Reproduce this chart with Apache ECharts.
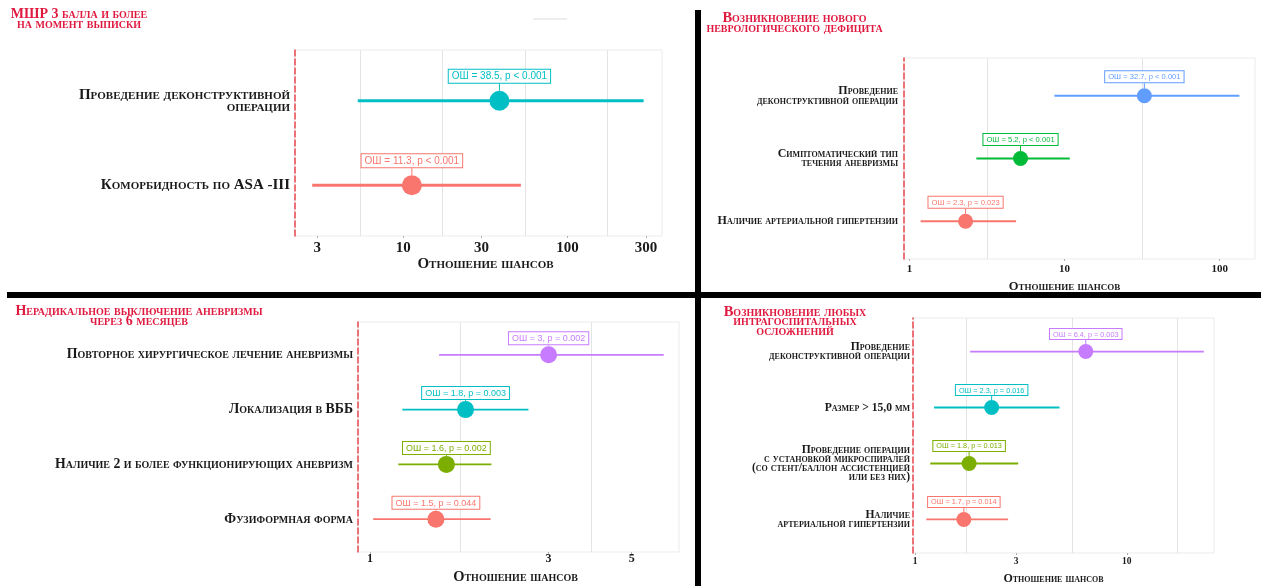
<!DOCTYPE html>
<html><head><meta charset="utf-8">
<script src="https://cdn.jsdelivr.net/npm/echarts@6/dist/echarts.min.js"></script>
<style>html,body{margin:0;padding:0;background:#fff}#c{width:1261px;height:586px}</style>
</head><body><div id="c"></div>
<script>
// ---------- Panel 1: МШР 3 балла и более на момент выписки ----------
const p1Title = 'МШР 3 балла и более\nна момент выписки';
const p1Categories = ['Проведение деконструктивной\nоперации', 'Коморбидность по ASA -III'];
const p1OR = [38.5, 11.3];
const p1Lower = [5.3, 2.8];
const p1Upper = [290, 52];
const p1Labels = ['ОШ = 38.5, p < 0.001', 'ОШ = 11.3, p < 0.001'];
const p1Ticks = [3, 10, 30, 100, 300];
const p1GridLines = [5.48, 17.3, 54.8, 173];
const p1Range = [2.2, 375];

// ---------- Panel 2: Возникновение нового неврологического дефицита ----------
const p2Title = 'Возникновение нового\nневрологического дефицита';
const p2Categories = ['Проведение\nдеконструктивной операции', 'Симптоматический тип\nтечения аневризмы', 'Наличие артериальной гипертензии'];
const p2OR = [32.7, 5.2, 2.3];
const p2Lower = [8.6, 2.7, 1.18];
const p2Upper = [134, 10.8, 4.87];
const p2Labels = ['ОШ = 32.7, p < 0.001', 'ОШ = 5.2, p < 0.001', 'ОШ = 2.3, p = 0.023'];
const p2Ticks = [1, 10, 100];
const p2GridLines = [3.16, 31.6];
const p2Range = [0.922, 169];

// ---------- Panel 3: Нерадикальное выключение аневризмы через 6 месяцев ----------
const p3Title = 'Нерадикальное выключение аневризмы\nчерез 6 месяцев';
const p3Categories = ['Повторное хирургическое лечение аневризмы', 'Локализация в ВББ', 'Наличие 2 и более функционирующих аневризм', 'Фузиформная форма'];
const p3OR = [3, 1.8, 1.6, 1.5];
const p3Lower = [1.53, 1.22, 1.19, 1.02];
const p3Upper = [6.09, 2.65, 2.11, 2.1];
const p3Labels = ['ОШ = 3, p = 0.002', 'ОШ = 1.8, p = 0.003', 'ОШ = 1.6, p = 0.002', 'ОШ = 1.5, p = 0.044'];
const p3Ticks = [1, 3, 5];
const p3GridLines = [1.732, 3.873];
const p3Range = [0.929, 6.69];

// ---------- Panel 4: Возникновение любых интрагоспитальных осложнений ----------
const p4Title = 'Возникновение любых\nинтрагоспитальных\nосложнений';
const p4Categories = ['Проведение\nдеконструктивной операции', 'Размер > 15,0 мм', 'Проведение операции\nс установкой микроспиралей\n(со стент/баллон ассистенцией\nили без них)', 'Наличие\nартериальной гипертензии'];
const p4OR = [6.4, 2.3, 1.8, 1.7];
const p4Lower = [1.82, 1.23, 1.18, 1.13];
const p4Upper = [23.1, 4.81, 3.07, 2.75];
const p4Labels = ['ОШ = 6.4, p = 0.003', 'ОШ = 2.3, p = 0.016', 'ОШ = 1.8, p = 0.013', 'ОШ = 1.7, p = 0.014'];
const p4Ticks = [1, 3, 10];
const p4GridLines = [1.732, 5.477, 17.32];
const p4Range = [0.978, 25.8];

const xTitle = 'Отношение шансов';

// ---------- styles ----------
const SERIF = '"Liberation Serif", "DejaVu Serif", serif';
const SANS = '"Liberation Sans", Arial, sans-serif';
const RED = '#F8766D', TEAL = '#00BFC4', BLUE = '#619CFF', GREEN = '#00BA38', OLIVE = '#7CAE00', VIOLET = '#C77CFF';
const TITLE_RED = '#E0193F';

const panels = [
  { title: p1Title, cats: p1Categories, or: p1OR, lo: p1Lower, hi: p1Upper, labels: p1Labels, ticks: p1Ticks, gl: p1GridLines, range: p1Range,
    colors: [TEAL, RED], grid: { left: 295, top: 50, width: 367, height: 186 },
    titlePos: { x: 79, y: 9 }, titleFont: 14, titleLH: 10,
    catFont: 15, catLH: 12, labelMargin: 5, tickFont: 15, tickMargin: 5, nameFont: 15, nameGap: 18, nameShift: 7,
    lineW: 3, sym: 20, valFont: 10, gap: 8 },
  { title: p2Title, cats: p2Categories, or: p2OR, lo: p2Lower, hi: p2Upper, labels: p2Labels, ticks: p2Ticks, gl: p2GridLines, range: p2Range,
    colors: [BLUE, GREEN, RED], grid: { left: 904, top: 58, width: 351, height: 201 },
    titlePos: { x: 794.5, y: 13.5 }, titleFont: 14.5, titleLH: 10,
    catFont: 12, catLH: 9.5, labelMargin: 6, tickFont: 11, tickMargin: 5, nameFont: 12.5, nameGap: 21, nameShift: -15,
    lineW: 2, sym: 15, valFont: 7.6, gap: 6 },
  { title: p3Title, cats: p3Categories, or: p3OR, lo: p3Lower, hi: p3Upper, labels: p3Labels, ticks: p3Ticks, gl: p3GridLines, range: p3Range,
    colors: [VIOLET, TEAL, OLIVE, RED], grid: { left: 358, top: 322, width: 321, height: 231 },
    titlePos: { x: 139, y: 306 }, titleFont: 14, titleLH: 10.5,
    catFont: 13.8, catLH: 11, labelMargin: 5, tickFont: 12, tickMargin: 1, nameFont: 14.5, nameGap: 18, nameShift: -3,
    lineW: 1.8, sym: 17, valFont: 9, gap: 2 },
  { title: p4Title, cats: p4Categories, or: p4OR, lo: p4Lower, hi: p4Upper, labels: p4Labels, ticks: p4Ticks, gl: p4GridLines, range: p4Range,
    colors: [VIOLET, TEAL, OLIVE, RED], grid: { left: 913, top: 318, width: 301, height: 240 },
    titlePos: { x: 795, y: 307.5 }, titleFont: 14.5, titleLH: 9.3,
    catFont: 11.6, catLH: 8.7, labelMargin: 3, tickFont: 9.5, tickMargin: 4, nameFont: 12, nameGap: 20, nameShift: -10,
    lineW: 1.8, sym: 15, valFont: 7.3, gap: 5 }
];

const option = {
  animation: false,
  backgroundColor: '#fff',
  title: [], grid: [], xAxis: [], yAxis: [], series: [],
  graphic: [
    { type: 'rect', shape: { x: 695, y: 10, width: 6, height: 576 }, style: { fill: '#000' }, z: 100 },
    { type: 'rect', shape: { x: 7, y: 292, width: 1254, height: 6 }, style: { fill: '#000' }, z: 100 },
    { type: 'line', shape: { x1: 533, y1: 19, x2: 567, y2: 19 }, style: { stroke: '#dcdcdc', lineWidth: 1 } }
  ]
};

panels.forEach((p, k) => {
  const n = p.cats.length;
  const tickLogs = p.ticks.map(Math.log10);
  option.title.push({
    text: p.title, left: p.titlePos.x, top: p.titlePos.y, textAlign: 'center', padding: 0,
    textStyle: { fontFamily: SERIF, fontWeight: 'bold', fontStyle: 'small-caps', fontSize: p.titleFont, lineHeight: p.titleLH, color: TITLE_RED }
  });
  option.grid.push(Object.assign({ show: true, borderColor: '#ebebeb', borderWidth: 1, backgroundColor: '#fff' }, p.grid));
  const pad = p.nameShift >= 0 ? [0, 0, 0, 2 * p.nameShift] : [0, -2 * p.nameShift, 0, 0];
  option.xAxis.push({
    type: 'value', gridIndex: k,
    min: Math.log10(p.range[0]), max: Math.log10(p.range[1]),
    axisLine: { show: false }, splitLine: { show: false },
    axisTick: { show: true, customValues: tickLogs, length: 2, lineStyle: { color: '#b0b0b0' } },
    axisLabel: {
      customValues: tickLogs,
      formatter: v => { const i = tickLogs.findIndex(t => Math.abs(t - v) < 1e-6); return i >= 0 ? String(p.ticks[i]) : ''; },
      fontFamily: SERIF, fontWeight: 'bold', fontSize: p.tickFont, color: '#1a1a1a', margin: p.tickMargin
    },
    name: xTitle, nameLocation: 'middle', nameGap: p.nameGap,
    nameTextStyle: { fontFamily: SERIF, fontWeight: 'bold', fontStyle: 'small-caps', fontSize: p.nameFont, color: '#1a1a1a', padding: pad }
  });
  const yVals = []; for (let i = 1; i <= n; i++) yVals.push(i);
  option.yAxis.push({
    type: 'value', gridIndex: k, min: 0.4, max: n + 0.6,
    axisLine: { show: true, onZero: false, lineStyle: { color: '#E8474C', type: [6, 3], width: 1.5 } },
    axisTick: { show: false }, splitLine: { show: false },
    axisLabel: {
      customValues: yVals,
      formatter: v => p.cats[n - Math.round(v)],
      fontFamily: SERIF, fontWeight: 'bold', fontStyle: 'small-caps', fontSize: p.catFont, lineHeight: p.catLH,
      color: '#1a1a1a', margin: p.labelMargin, align: 'right'
    }
  });
  // grid lines (geometric midpoints between ticks)
  option.series.push({
    type: 'custom', xAxisIndex: k, yAxisIndex: k, z: 1, silent: true,
    data: [], renderItem: () => null,
    markLine: {
      silent: true, symbol: 'none', z: 1, animation: false, label: { show: false },
      lineStyle: { color: '#e4e4e4', width: 1, type: 'solid' },
      data: p.gl.map(g => ({ xAxis: Math.log10(g) }))
    }
  });
  // confidence intervals
  option.series.push({
    type: 'custom', xAxisIndex: k, yAxisIndex: k, z: 2, silent: true,
    encode: { x: [0, 1], y: 2 },
    data: p.or.map((_, i) => [Math.log10(p.lo[i]), Math.log10(p.hi[i]), n - i, i]),
    renderItem: (params, api) => {
      const y = api.value(2);
      const a = api.coord([api.value(0), y]);
      const b = api.coord([api.value(1), y]);
      return { type: 'line', shape: { x1: a[0], y1: a[1], x2: b[0], y2: b[1] },
        style: { stroke: p.colors[api.value(3)], lineWidth: p.lineW } };
    }
  });
  // point estimates with labels (short leader line to the point)
  option.series.push({
    type: 'scatter', xAxisIndex: k, yAxisIndex: k, z: 3, silent: true,
    symbol: 'circle', symbolSize: p.sym,
    data: p.or.map((v, i) => ({
      value: [Math.log10(v), n - i],
      itemStyle: { color: p.colors[i], opacity: 1 },
      label: { color: p.colors[i], borderColor: p.colors[i] },
      labelLine: { lineStyle: { color: p.colors[i] } }
    })),
    label: {
      show: true, position: 'top', distance: 0,
      formatter: params => p.labels[params.dataIndex],
      fontFamily: SANS, fontSize: p.valFont, backgroundColor: '#fff', borderWidth: 1, padding: [2, 3, 1, 3]
    },
    labelLayout: { dy: -p.gap },
    labelLine: { show: true, lineStyle: { width: 1 } }
  });
});

const chart = echarts.init(document.getElementById('c'), null, { renderer: 'canvas' });
chart.setOption(option);
</script>
</body></html>
